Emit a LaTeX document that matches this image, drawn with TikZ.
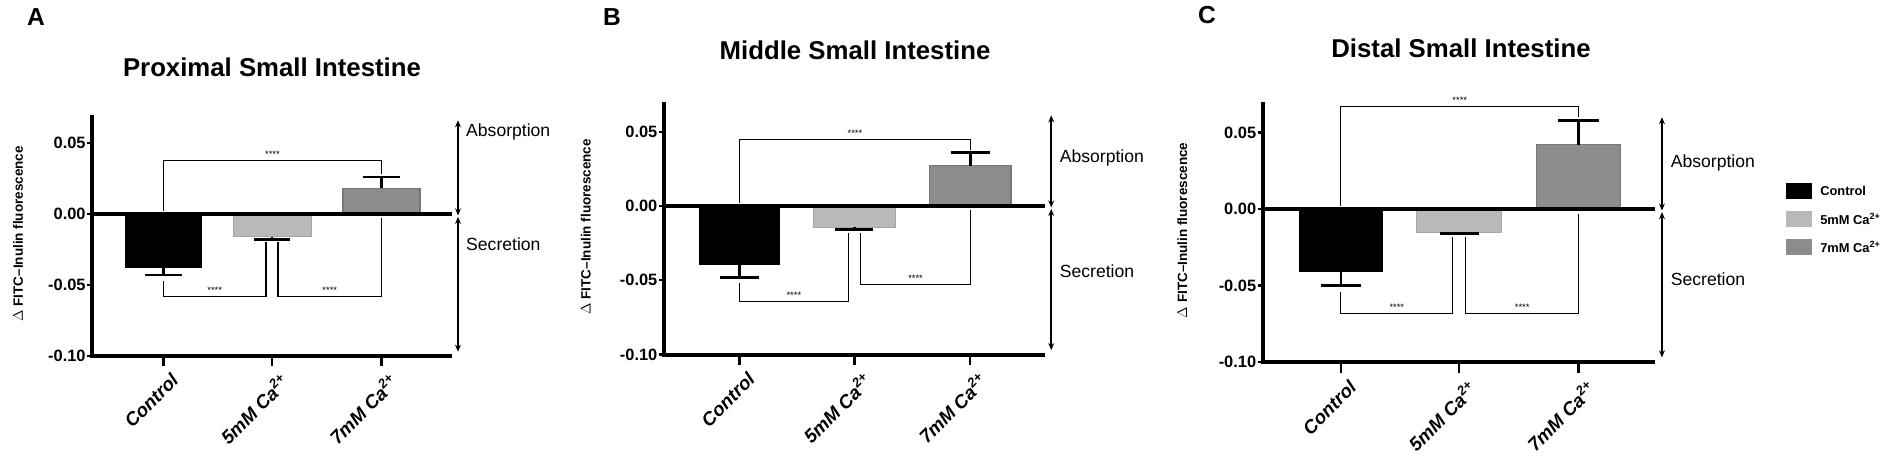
\documentclass[tikz,border=0pt]{standalone}
\usepackage{fontspec}
\setmainfont{Liberation Sans}
\usetikzlibrary{arrows.meta,positioning}
\definecolor{ctrlblack}{HTML}{000000}
\definecolor{fivegray}{HTML}{B9B9B9}
\definecolor{sevengray}{HTML}{8C8C8C}

\begin{document}
\begin{tikzpicture}[x=0.3mm, y=-0.3mm,
    ticklbl/.style={font=\fontsize{14}{14}\selectfont\bfseries, anchor=east, inner sep=1pt},
    side/.style={font=\fontsize{15}{15}\selectfont, anchor=west, inner sep=0pt},
    ylbl/.style={font=\fontsize{11.5}{12}\selectfont\bfseries, rotate=90},
    xlbl/.style={font=\fontsize{16}{16}\selectfont\bfseries\itshape, rotate=45, anchor=north east, inner sep=1pt},
    title/.style={font=\fontsize{22}{22}\selectfont\bfseries},
    letter/.style={font=\fontsize{21}{21}\selectfont\bfseries},
    stars/.style={font=\fontsize{8}{8}\selectfont, above, inner sep=2pt},
    bracket/.style={line width=0.9pt},
    axisline/.style={line width=3.4pt},
    errbar/.style={line width=2.2pt},
    dbl/.style={{Stealth[length=6pt,width=5pt]}-{Stealth[length=6pt,width=5pt]}, line width=1.4pt},
    legtxt/.style={font=\fontsize{11}{11}\selectfont\bfseries, anchor=west, inner sep=0pt}
]
\useasboundingbox (0,0) rectangle (1900,465);

% Panel letters and titles
\node[letter] (letA) at (36,17) {A};
\node[letter] (letB) at (612,17) {B};
\node[letter] (letC) at (1207,15) {C};
\node[title] (titA) at (272,67) {Proximal Small Intestine};
\node[title] (titB) at (855,50) {Middle Small Intestine};
\node[title] (titC) at (1461,48) {Distal Small Intestine};

% Panels: axis x / zero y / px per 0.05 / x scale / bars / brackets / arrow top / label heights
\foreach \ax/\zy/\pp/\s/\cv/\ce/\fv/\fe/\sv/\se/\bt/\bl/\br/\at/\al/\sl in {
    92/214/71/1.0/-38/-43/-16/-18/18/26/38/-58/-58/66/58/-21,
    664/206/74.3/1.058/-40/-48/-14/-16/27/36/45/-64/-53/61/32/-44,
    1263/209/76.5/1.09/-41/-50/-15/-16/42/58/67/-68/-68/60/30/-46}{
  \begin{scope}[shift={(\ax,\zy)}, xscale=\s, yscale=-\pp/50]
    % bars
    \fill[ctrlblack] (33,0) rectangle (110,\cv);
    \filldraw[fill=fivegray, draw=fivegray!90!black] (141,0) rectangle (219,\fv);
    \filldraw[fill=sevengray, draw=sevengray!85!black, line width=1pt] (251,0) rectangle (328,\sv);
    % error bars
    \draw[errbar] (71.5,\cv) -- (71.5,\ce) (53,\ce) -- (90,\ce);
    \draw[errbar] (180,\fv) -- (180,\fe) (162,\fe) -- (198,\fe);
    \draw[errbar] (289.5,\sv) -- (289.5,\se) (271,\se) -- (308,\se);
    % significance brackets
    \draw[bracket] (71.5,2) -- (71.5,\bt) -- node[stars] {****} (289.5,\bt) -- (289.5,\se+2);
    \draw[bracket] (71.5,\ce-4) -- (71.5,\bl) -- node[stars] {****} (174,\bl) -- (174,\fe-2);
    \draw[bracket] (186,\fe-2) -- (186,\br) -- node[stars] {****} (289.5,\br) -- (289.5,-3);
    % axes
    \draw[axisline] (0,70) -- (0,-100) -- (360,-100);
    \draw[axisline] (0,0) -- (360,0);
    \foreach \v/\t in {50/0.05,0/0.00,-50/-0.05,-100/-0.10}{
      \draw[line width=2pt] (-5,\v) -- (0,\v);
      \node[ticklbl] (tk\t) at (-5,\v) {\t};
    }
    \foreach \c in {71.5,180,289.5}
      \draw[line width=2pt] (\c,-100) -- (\c,-107);
    \node[xlbl] (xc) at (78,-110) {Control};
    \node[xlbl] (xf) at (187,-110) {5mM Ca\textsuperscript{2+}};
    \node[xlbl] (xs) at (296,-110) {7mM Ca\textsuperscript{2+}};
    \node[ylbl] (yl) at (-74,-14) {$\Delta$ FITC--Inulin fluorescence};
    % absorption / secretion arrows
    \draw[dbl] (366,-1) -- (366,\at);
    \draw[dbl] (366,-2) -- (366,-97);
    \node[side] (abs) at (374,\al) {Absorption};
    \node[side] (sec) at (374,\sl) {Secretion};
  \end{scope}
}

% Legend
\fill[ctrlblack] (1786,183) rectangle (1812,199);
\fill[fivegray] (1786,211) rectangle (1812,227);
\fill[sevengray] (1786,239) rectangle (1812,255);
\node[legtxt] (lc) at (1820,191) {Control};
\node[legtxt] (lf) at (1820,219) {5mM Ca\textsuperscript{2+}};
\node[legtxt] (ls) at (1820,247) {7mM Ca\textsuperscript{2+}};
\end{tikzpicture}
\end{document}
